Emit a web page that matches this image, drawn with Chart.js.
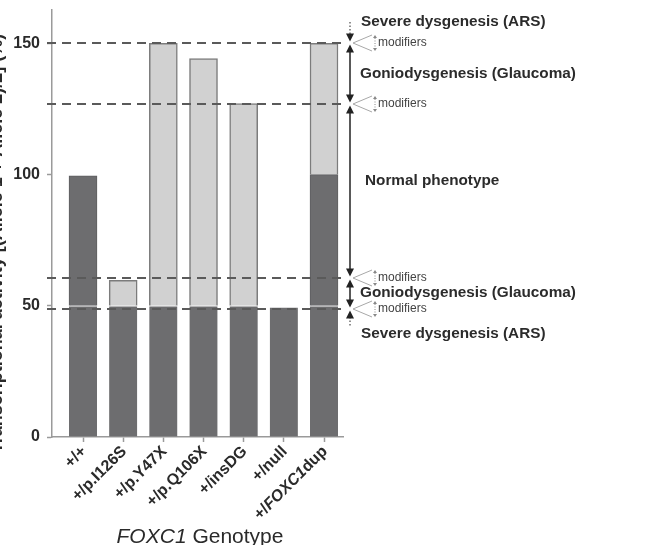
<!DOCTYPE html>
<html lang="en">
<head>
<meta charset="UTF-8">
<title>FOXC1 Genotype - Transcriptional activity</title>
<script src="https://cdn.jsdelivr.net/npm/chart.js"></script>
<style>
    html, body { margin: 0; padding: 0; background: #fff; }
    #wrap { width: 648px; height: 545px; }
</style>
</head>
<body>
<div id="wrap"><canvas id="chart" width="648" height="545"></canvas></div>
<script>
    // Data
    const genotypes = ['+/+', '+/p.I126S', '+/p.Y47X', '+/p.Q106X', '+/insDG', '+/null', '+/FOXC1dup'];
    const allele1 = [50, 50, 50, 50, 50, 49.5, 50];             // first allele (dark)
    const allele2WT = [49.5, null, null, null, null, null, 50];  // wild-type second allele (dark)
    const allele2Var = [null, 9.7, 100, 94.2, 77, null, 50];     // variant / duplicated allele (light)
    const thresholds = [150, 126.7, 60.6, 48.8];                 // dashed phenotype limits
    const yTicks = [0, 50, 100, 150];

    const FONT = '"Liberation Sans", Arial, Helvetica, sans-serif';
    const DARK = '#6d6d6f';
    const LIGHT = '#d1d1d1';
    const AXIS = '#9a9a9a';

    const pts = arr => arr.map((v, i) => ({ x: i, y: v }));

    // draws text with "FOXC1" in italic
    function drawRich(ctx, text, x, y, size, weight, align) {
        const parts = text.split(/(FOXC1)/).filter(Boolean);
        const fontFor = p => (p === 'FOXC1' ? 'italic ' : '') + weight + ' ' + size + 'px ' + FONT;
        let total = 0;
        parts.forEach(p => { ctx.font = fontFor(p); total += ctx.measureText(p).width; });
        let cx = align === 'right' ? x - total : align === 'center' ? x - total / 2 : x;
        ctx.textAlign = 'left';
        parts.forEach(p => {
            ctx.font = fontFor(p);
            ctx.fillText(p, cx, y);
            cx += ctx.measureText(p).width;
        });
    }

    function head(ctx, x, tipY, dir, w, len) {
        ctx.beginPath();
        ctx.moveTo(x, tipY);
        ctx.lineTo(x - w, tipY - dir * len);
        ctx.lineTo(x + w, tipY - dir * len);
        ctx.closePath();
        ctx.fill();
    }

    const dashedLines = {
        id: 'dashedLines',
        afterDatasetsDraw(chart) {
            const { ctx, chartArea, scales: { y } } = chart;
            ctx.save();
            ctx.strokeStyle = '#5a5a5a';
            ctx.lineWidth = 2;
            ctx.setLineDash([9, 6]);
            thresholds.forEach(v => {
                const py = Math.round(y.getPixelForValue(v));
                ctx.beginPath();
                ctx.moveTo(chartArea.left - 5, py);
                ctx.lineTo(chartArea.right, py);
                ctx.stroke();
            });
            ctx.restore();
        }
    };

    const annotations = {
        id: 'annotations',
        afterDraw(chart) {
            const { ctx, chartArea, scales: { x, y } } = chart;
            const ys = thresholds.map(v => Math.round(y.getPixelForValue(v)));
            const ax = chartArea.right + 7;
            ctx.save();

            // x tick labels (rotated)
            ctx.fillStyle = '#2a2a2a';
            ctx.textBaseline = 'middle';
            genotypes.forEach((g, i) => {
                const px = x.getPixelForValue(i);
                ctx.save();
                ctx.translate(px + 1, chartArea.bottom + 12);
                ctx.rotate(-Math.PI / 4);
                drawRich(ctx, g, 0, 0, 16, 'bold', 'right');
                ctx.restore();
            });

            // x axis title
            ctx.textBaseline = 'middle';
            drawRich(ctx, 'FOXC1 Genotype', 200, 537, 21, 'normal', 'center');

            // y axis title (clipped at the left edge)
            ctx.save();
            ctx.translate(2, (chartArea.top + chartArea.bottom) / 2 + 20);
            ctx.rotate(-Math.PI / 2);
            ctx.textAlign = 'center';
            ctx.textBaseline = 'alphabetic';
            ctx.font = 'bold 18px ' + FONT;
            ctx.fillText('Transcriptional activity [(Allele 1 + Allele 2)/2] (%)', 0, 0);
            ctx.restore();

            // vertical arrows
            ctx.strokeStyle = '#222';
            ctx.fillStyle = '#222';
            ctx.lineWidth = 1.5;
            for (let i = 0; i < ys.length - 1; i++) {
                const t = ys[i] + 1.5, b = ys[i + 1] - 1.5;
                ctx.beginPath();
                ctx.moveTo(ax, t + 6);
                ctx.lineTo(ax, b - 6);
                ctx.stroke();
                head(ctx, ax, t, -1, 4, 8);
                head(ctx, ax, b, 1, 4, 8);
            }
            ctx.setLineDash([1.5, 2]);
            ctx.lineWidth = 1;
            ctx.beginPath();
            ctx.moveTo(ax, ys[0] - 21);
            ctx.lineTo(ax, ys[0] - 8);
            ctx.moveTo(ax, ys[3] + 8);
            ctx.lineTo(ax, ys[3] + 18);
            ctx.stroke();
            ctx.setLineDash([]);
            head(ctx, ax, ys[0] - 1.5, 1, 4, 8);
            head(ctx, ax, ys[3] + 1.5, -1, 4, 8);

            // "modifiers" callouts
            ys.forEach(py => {
                ctx.strokeStyle = '#a8a8a8';
                ctx.lineWidth = 1;
                ctx.beginPath();
                ctx.moveTo(ax + 22, py - 8);
                ctx.lineTo(ax + 3, py);
                ctx.lineTo(ax + 22, py + 8);
                ctx.stroke();
                ctx.strokeStyle = '#888';
                ctx.setLineDash([1, 1.5]);
                ctx.beginPath();
                ctx.moveTo(ax + 25, py - 5);
                ctx.lineTo(ax + 25, py + 5);
                ctx.stroke();
                ctx.setLineDash([]);
                ctx.fillStyle = '#888';
                head(ctx, ax + 25, py - 8, -1, 2, 3);
                head(ctx, ax + 25, py + 8, 1, 2, 3);
                ctx.fillStyle = '#444';
                ctx.font = '12px ' + FONT;
                ctx.textAlign = 'left';
                ctx.textBaseline = 'middle';
                ctx.fillText('modifiers', ax + 28, py);
            });

            // phenotype labels
            ctx.fillStyle = '#2b2b2b';
            ctx.font = 'bold 15.3px ' + FONT;
            ctx.textAlign = 'left';
            ctx.textBaseline = 'middle';
            ctx.fillText('Severe dysgenesis (ARS)', ax + 11, ys[0] - 21);
            ctx.fillText('Goniodysgenesis (Glaucoma)', ax + 10, (ys[0] + ys[1]) / 2);
            ctx.fillText('Normal phenotype', ax + 15, (ys[1] + ys[2]) / 2 - 10);
            ctx.fillText('Goniodysgenesis (Glaucoma)', ax + 10, (ys[2] + ys[3]) / 2 - 1);
            ctx.fillText('Severe dysgenesis (ARS)', ax + 11, ys[3] + 25);

            ctx.restore();
        }
    };

    const ctx = document.getElementById('chart').getContext('2d');
    new Chart(ctx, {
        type: 'bar',
        data: {
            datasets: [
                {
                    label: 'Allele 1',
                    data: pts(allele1),
                    backgroundColor: DARK,
                    borderColor: 'rgba(255,255,255,0.85)',
                    borderWidth: { top: 1, left: 0, right: 0, bottom: 0 },
                    borderSkipped: false
                },
                {
                    label: 'Allele 2 (wild type)',
                    data: pts(allele2WT),
                    backgroundColor: DARK,
                    borderColor: '#5e5e60',
                    borderWidth: 1
                },
                {
                    label: 'Allele 2 (variant)',
                    data: pts(allele2Var),
                    backgroundColor: LIGHT,
                    borderColor: '#7c7c7c',
                    borderWidth: 1.5
                }
            ]
        },
        options: {
            responsive: false,
            animation: false,
            datasets: { bar: { barThickness: 28 } },
            layout: { padding: { top: 10, right: 305, left: 0, bottom: 0 } },
            plugins: { legend: { display: false }, tooltip: { enabled: false } },
            scales: {
                x: {
                    type: 'linear',
                    stacked: true,
                    offset: false,
                    min: -0.772,
                    max: 6.473,
                    afterBuildTicks: s => { s.ticks = genotypes.map((g, i) => ({ value: i })); },
                    afterFit: s => { s.height = 108; s.paddingLeft = 0; s.paddingRight = 0; },
                    ticks: { display: false },
                    grid: { offset: false, drawOnChartArea: false, drawTicks: true, tickLength: 5, tickColor: AXIS, tickWidth: 1.5 },
                    border: { color: AXIS, width: 1.5 }
                },
                y: {
                    stacked: true,
                    min: 0,
                    max: 162.7,
                    afterBuildTicks: s => { s.ticks = yTicks.map(v => ({ value: v })); },
                    afterFit: s => { s.width = 52; s.paddingTop = 0; s.paddingBottom = 0; },
                    ticks: { font: { family: FONT, size: 16, weight: 'bold' }, color: '#2a2a2a', padding: 7 },
                    grid: { drawOnChartArea: false, drawTicks: true, tickLength: 5, tickColor: AXIS, tickWidth: 1.5 },
                    border: { color: AXIS, width: 1.5 }
                }
            }
        },
        plugins: [dashedLines, annotations]
    });
</script>
</body>
</html>
